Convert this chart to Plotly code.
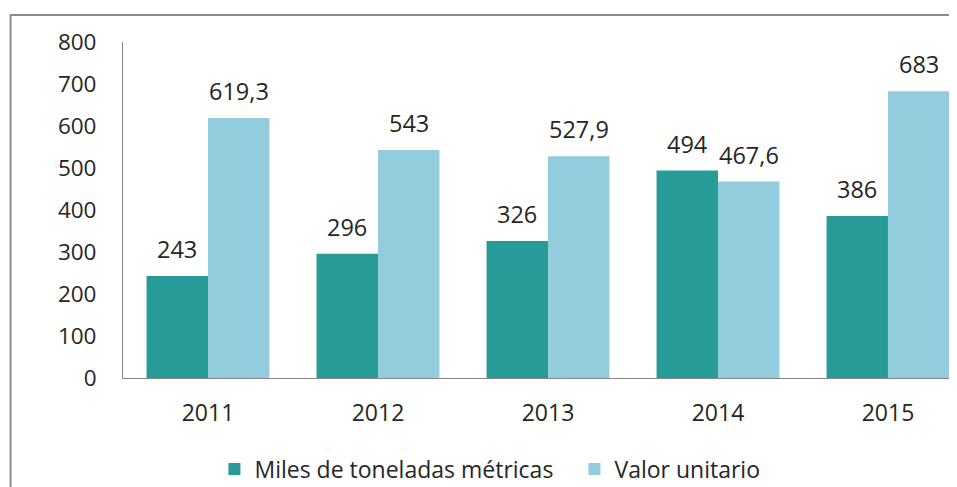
import plotly.graph_objects as go

years = ["2011", "2012", "2013", "2014", "2015"]
miles_toneladas = [243, 296, 326, 494, 386]
valor_unitario = [619.3, 543, 527.9, 467.6, 683]
series_names = ["Miles de toneladas métricas", "Valor unitario"]
y_ticks = [0, 100, 200, 300, 400, 500, 600, 700, 800]

def fmt(v):
    s = ("%g" % v)
    return s.replace(".", ",")

FONT = "Open Sans, Calibri, sans-serif"
TXT = "#262626"
C1 = "#269B97"
C2 = "#93CDDD"

fig = go.Figure()
fig.add_trace(go.Bar(x=years, y=miles_toneladas, name=series_names[0],
                     marker=dict(color=C1, line=dict(width=0))))
fig.add_trace(go.Bar(x=years, y=valor_unitario, name=series_names[1],
                     marker=dict(color=C2, line=dict(width=0))))

BARGAP = 0.277
half = (1 - BARGAP) / 4
annotations = []
for vals, off in ((miles_toneladas, -half), (valor_unitario, half)):
    for i, v in enumerate(vals):
        annotations.append(dict(x=i + off, y=v, text=fmt(v), showarrow=False,
                                yshift=9, yanchor="bottom",
                                font=dict(family=FONT, size=23.5, color=TXT)))

# The page body adds an 8px offset, so the figure is 8px smaller and
# reference pixel positions are shifted by 8.
OFF = 8
W, H = 957 - OFF, 487 - OFF
L, R, T, B = 122.5 - OFF, 0, 42 - OFF, 487 - 378
pw, ph = W - L - R, H - T - B
CAT_W = 170.1  # pixel width of one category in the reference

def px_x(x):
    return (x - OFF - L) / pw

def px_y(y):
    return (H - B - (y - OFF)) / ph

fig.update_layout(
    width=W, height=H,
    margin=dict(l=L, r=R, t=T, b=B, autoexpand=False),
    plot_bgcolor="white", paper_bgcolor="white",
    barmode="group", bargap=BARGAP, bargroupgap=0,
    font=dict(family=FONT, size=23, color=TXT),
    annotations=annotations,
    showlegend=True,
    legend=dict(orientation="h", x=px_x(214), xanchor="left",
                y=px_y(469), yanchor="middle",
                font=dict(family=FONT, size=23, color=TXT),
                itemwidth=30, traceorder="normal",
                entrywidth=315, entrywidthmode="pixels"),
    xaxis=dict(type="category", range=[-0.5, -0.5 + pw / CAT_W], showline=True,
               linecolor="#868686", linewidth=1, ticklabelstandoff=14,
               ticks="", showgrid=False, tickfont=dict(size=23)),
    yaxis=dict(range=[0, 800], tickvals=y_ticks, showline=True,
               linecolor="#868686", linewidth=1, ticks="", showgrid=False,
               zeroline=False, tickfont=dict(size=22.5), ticklabelstandoff=21),
    shapes=[dict(type="rect", xref="paper", yref="paper",
                 x0=px_x(10), x1=px_x(970), y0=px_y(500), y1=px_y(15),
                 line=dict(color="#8C8C8C", width=2), layer="below")],
)

fig.write_html("out.html")
